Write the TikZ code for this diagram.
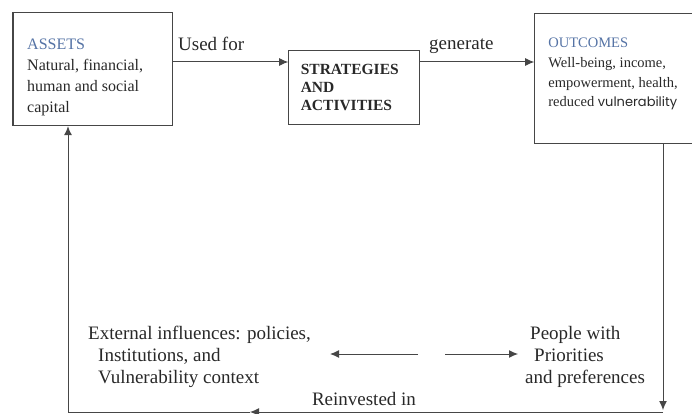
\documentclass[tikz,border=0pt]{standalone}
\usepackage{fontspec}
\setmainfont{Liberation Serif}
\newfontfamily\gothicfont{Poppins}
\usetikzlibrary{positioning,arrows.meta}
\definecolor{linegray}{RGB}{70,70,70}
\definecolor{textgray}{RGB}{40,40,40}
\definecolor{titleblue}{RGB}{85,115,165}

\begin{document}
\begin{tikzpicture}[x=1pt, y=-1pt,
			boxnode/.style={rectangle, draw=linegray, line width=1.2pt, inner sep=0pt},
			boxtext/.style={anchor=north west, inner sep=0pt, align=left, text=textgray},
			freetext/.style={anchor=north west, inner sep=0pt, align=left, text=textgray, font=\fontsize{19}{22}\selectfont},
			labeltext/.style={inner sep=0pt, text depth=0pt, text=textgray, font=\fontsize{19}{22}\selectfont},
			flow/.style={draw=linegray, line width=1pt, -{Latex[length=9pt,width=8pt]}},
			]
			\useasboundingbox (0,0) rectangle (692,414);
			%Nodes
			\node[boxnode, anchor=north west, minimum width=159pt, minimum height=113pt] (assets) at (13,12) {};
			\node[boxnode, minimum width=131pt, minimum height=74pt, text width=107pt, inner xsep=12pt, align=left,
				font=\fontsize{15.5}{18}\selectfont\bfseries, text=textgray] (strategies)
				[below right=38pt and 115pt of assets.north east] {STRATEGIES\\AND\\ACTIVITIES};
			\node[boxnode, minimum width=162pt, minimum height=130pt] (outcomes)
				[below right=1pt and 361pt of assets.north east] {};

			\node[boxtext, font=\fontsize{16}{21}\selectfont] (assetstext)
				[below right=27pt and 14pt of assets.north west]
				{\textcolor{titleblue}{ASSETS}\\Natural, financial,\\human and social\\capital};
			\node[boxtext, font=\fontsize{14.5}{19.7}\selectfont] (outcomestext)
				[below right=25pt and 14pt of outcomes.north west]
				{\textcolor{titleblue}{OUTCOMES}\\Well-being, income,\\empowerment, health,\\reduced {\gothicfont\fontsize{13}{19.7}\selectfont vulnerability}};

			\node[freetext] (external) at (88,326)
				{External influences: policies,\\\hspace*{10pt}Institutions, and\\\hspace*{10pt}Vulnerability context};
			\node[freetext] (people) at (525,326)
				{\hspace*{5pt}People with\\\hspace*{9pt}Priorities\\and preferences};

			%Coordinates
			\coordinate (flowline) at (0,62);
			\coordinate (split) at (431,354);
			\coordinate (rcorner) at (663,412);
			\coordinate (lcorner) at (68,412);
			\coordinate (back) at (250,412);

			%Connectors
			\draw[line width=2.4pt, linegray] (assets.north west) -- (assets.south west);
			\draw[flow] (assets.east |- flowline) -- (strategies.west |- flowline)
				node[labeltext, pos=.33, above=11pt] {Used for};
			\draw[flow] (strategies.east |- flowline) -- (outcomes.west |- flowline)
				node[labeltext, pos=.36, above=12pt] {generate};
			\draw[flow] (outcomes.south -| rcorner) -- ([yshift=2pt]rcorner);
			\draw[flow] (rcorner) -- (back)
				node[labeltext, pos=.724, above=6pt] {Reinvested in};
			\draw[flow] (back) -| (assets.south -| lcorner);
			\draw[flow] ([xshift=-13pt]split) -- ([xshift=19pt]external.east |- split);
			\draw[flow] ([xshift=14pt]split) -- ([xshift=-7pt]people.west |- split);
		\end{tikzpicture}
\end{document}
